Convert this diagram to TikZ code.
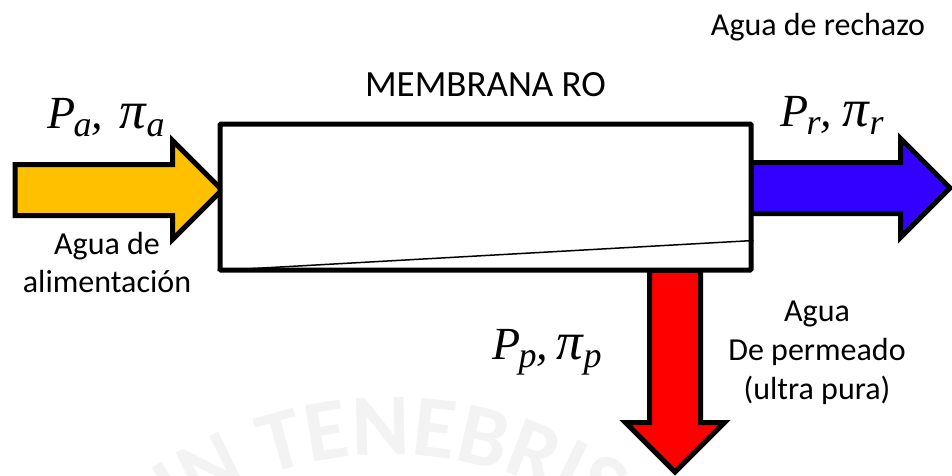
\documentclass[tikz,border=0pt]{standalone}
\usepackage{fontspec}
\setmainfont{Carlito}
\newfontfamily\mate{Liberation Serif}
\usetikzlibrary{shapes.arrows,positioning,decorations.text}
\definecolor{amarillo}{RGB}{255,192,0}
\definecolor{azul}{RGB}{51,0,255}
\definecolor{rojo}{RGB}{255,0,0}
\definecolor{sello}{RGB}{243,243,243}
\newcommand{\subi}[1]{\raisebox{-8pt}{\fontsize{36}{36}\selectfont #1}}
\newcommand{\flujo}[2]{P\kern-2pt\subi{#1},\kern#2{\fontsize{53}{50}\selectfont π}\kern1pt\subi{#1}}

\begin{document}
\begin{tikzpicture}[x=1pt, y=-1pt,
	membrana/.style={rectangle, draw, line width=5pt, rounded corners=1pt, minimum width=531pt, minimum height=146pt, inner sep=0pt},
	flecha/.style={single arrow, draw, line width=5pt, inner sep=0pt, outer sep=0pt, text width=0pt, text height=46pt, text depth=0pt, single arrow head extend=24pt},
	etiqueta/.style={align=center, font=\fontsize{32}{38}\selectfont, inner sep=0pt},
	rotulo/.style={align=center, font=\mate\itshape\fontsize{46}{50}\selectfont, inner sep=0pt}]
	\useasboundingbox (0,0) rectangle (952,475);
	% sello de fondo
	\path[decorate, decoration={text along path, text align=left, text={|\color{sello}\bfseries\fontsize{88}{88}\selectfont|IN TENEBRIS}}] (390,835) ++(124:380pt) arc[start angle=124, end angle=35, radius=380pt];
	\node[flecha, fill=amarillo, minimum height=207pt, anchor=tail] (A) at (15,190) {};
	\node[flecha, fill=azul, minimum height=199pt, anchor=tail] (R) at (751,188) {};
	\node[flecha, fill=rojo, minimum height=202pt, rotate=-90, anchor=tail] (P) at (675,270) {};
	\node[membrana, fill=white] (M) at (485.5,197) {};
	\coordinate (f1) at ([yshift=2pt]M.south west);
	\coordinate (f2) at ([yshift=32pt]M.south east);
	\draw[line width=1.5pt] (f1) -- (f2);
	\node[etiqueta, font=\fontsize{37}{38}\selectfont] (TM) at (485.5,85) {MEMBRANA RO};
	\node[etiqueta] (TR) at (818,27) {Agua de rechazo};
	\node[etiqueta] (TA) at (107,262) {Agua de\\alimentación};
	\node[etiqueta, font=\fontsize{32}{39}\selectfont] (TP) at (817,353) {Agua\\De permeado\\(ultra pura)};
	\node[rotulo] (PA) at (106,118) {\flujo{a}{16pt}};
	\node[rotulo] (PR) at (832,115) {\flujo{r}{10pt}};
	\node[rotulo] (PP) at (547,352) {\flujo{p}{8pt}};
\end{tikzpicture}
\end{document}
